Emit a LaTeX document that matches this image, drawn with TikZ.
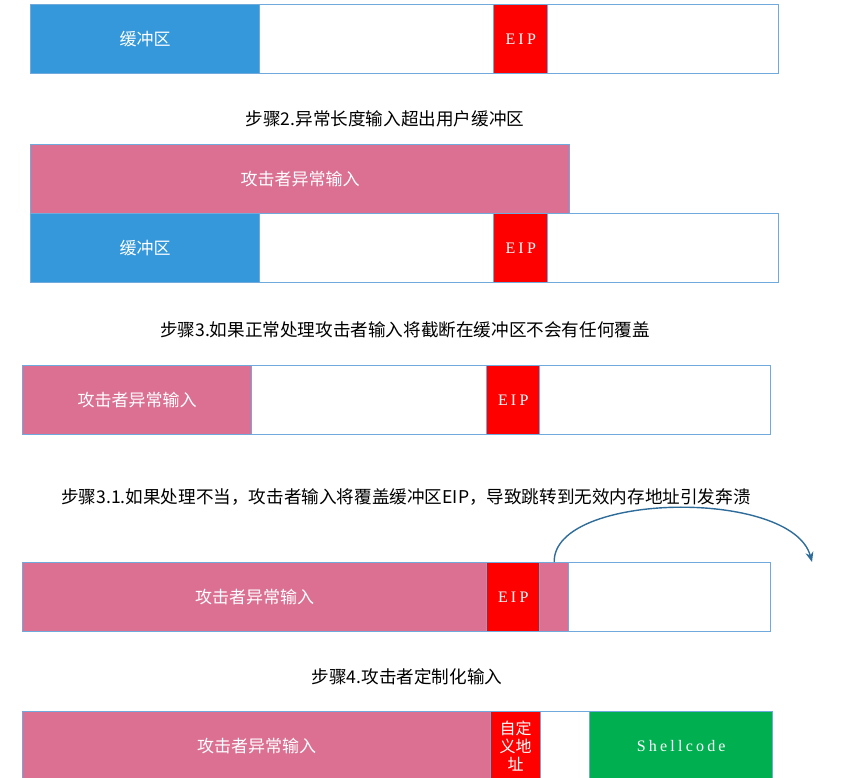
\documentclass[tikz,border=0pt]{standalone}
\usepackage{fontspec}
\newfontfamily\cjk{Noto Sans CJK SC}
\newfontfamily\spaced[LetterSpace=20]{Liberation Serif}
\usetikzlibrary{arrows.meta}
\definecolor{bufblue}{RGB}{52, 152, 219}
\definecolor{atkpink}{RGB}{219, 112, 147}
\definecolor{eipred}{RGB}{255, 0, 0}
\definecolor{shellgreen}{RGB}{0, 176, 80}
\definecolor{edgeblue}{RGB}{112, 170, 220}
\definecolor{arcblue}{RGB}{46, 108, 154}
\tikzset{
  cell/.style={draw=edgeblue, line width=1.4pt, anchor=north west, minimum height=69pt, inner sep=0pt, font=\cjk\fontsize{17}{18}\selectfont, text=white},
  caption/.style={font=\cjk\fontsize{17.6}{20}\selectfont, text=black},
  tag/.style={font=\spaced\fontsize{16}{16}\selectfont}
}
\begin{document}
\begin{tikzpicture}[x=1pt, y=-1pt]
  \useasboundingbox (0,0) rectangle (861,777);

  % Step 1: normal layout
  \node[cell, fill=bufblue, minimum width=229pt] (buf1) at (30,4) {缓冲区};
  \node[cell, fill=white, minimum width=234pt] (gap1) at (259,4) {};
  \node[cell, fill=eipred, minimum width=54pt, tag] (eip1) at (493,4) {EIP};
  \node[cell, fill=white, minimum width=231pt] (top1) at (547,4) {};

  % Step 2
  \node[caption] (cap2) at (385,119) {步骤2.异常长度输入超出用户缓冲区};
  \node[cell, fill=atkpink, minimum width=539pt] (atk2) at (30,144) {攻击者异常输入};
  \node[cell, fill=bufblue, minimum width=229pt] (buf2) at (30,213) {缓冲区};
  \node[cell, fill=white, minimum width=234pt] (gap2) at (259,213) {};
  \node[cell, fill=eipred, minimum width=54pt, tag] (eip2) at (493,213) {EIP};
  \node[cell, fill=white, minimum width=231pt] (top2) at (547,213) {};

  % Step 3
  \node[caption] (cap3) at (405,330) {步骤3.如果正常处理攻击者输入将截断在缓冲区不会有任何覆盖};
  \node[cell, fill=atkpink, minimum width=229pt] (atk3) at (22,365) {攻击者异常输入};
  \node[cell, fill=white, minimum width=235pt] (gap3) at (251,365) {};
  \node[cell, fill=eipred, minimum width=53pt, tag] (eip3) at (486,365) {EIP};
  \node[cell, fill=white, minimum width=231pt] (top3) at (539,365) {};

  % Step 3.1
  \node[caption] (cap31) at (406,497) {步骤3.1.如果处理不当，攻击者输入将覆盖缓冲区EIP，导致跳转到无效内存地址引发奔溃};
  \node[cell, fill=atkpink, minimum width=464pt] (atk4) at (22,562) {攻击者异常输入};
  \node[cell, fill=eipred, minimum width=53pt, tag] (eip4) at (486,562) {EIP};
  \node[cell, fill=atkpink, minimum width=29pt] (over4) at (539,562) {};
  \node[cell, fill=white, minimum width=202pt] (top4) at (568,562) {};
  \coordinate (crash) at (812,562);
  \draw[arcblue, line width=1.4pt, -{Stealth[length=10pt, width=8pt]}]
    (over4.north) .. controls (553,492) and (792,488) .. (crash);

  % Step 4
  \node[caption] (cap4) at (407,677) {步骤4.攻击者定制化输入};
  \node[cell, fill=atkpink, minimum width=468pt] (atk5) at (22,711) {攻击者异常输入};
  \node[cell, fill=eipred, minimum width=50pt, align=center, font=\cjk\fontsize{16}{18}\selectfont] (addr5) at (490,711) {自定\\义地\\址};
  \node[cell, fill=white, minimum width=49pt] (gap5) at (540,711) {};
  \node[cell, fill=shellgreen, minimum width=183pt, tag] (shell5) at (589,711) {Shellcode};
\end{tikzpicture}
\end{document}
